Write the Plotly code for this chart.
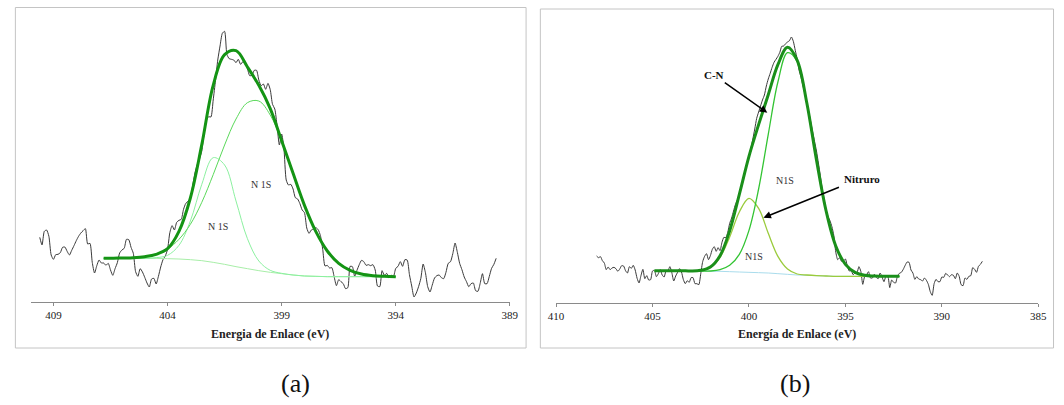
import plotly.graph_objects as go

# ---------------- Panel (a): N 1s spectrum ----------------
# scan grid of the measured spectrum, 0.1 eV step
energy_a = [round(409.6 - 0.1 * i, 1) for i in range(201)]
counts_a = [
    194, 171, 212, 216, 197, 141, 128, 142, 143, 148,
    164, 165, 152, 141, 155, 169, 184, 197, 207, 214,
    220, 174, 176, 119, 87, 109, 126, 117, 117, 110,
    116, 96, 80, 100, 118, 147, 156, 161, 188, 187,
    164, 146, 91, 77, 100, 90, 74, 57, 45, 69,
    71, 54, 77, 105, 127, 138, 158, 208, 229, 216,
    239, 245, 248, 278, 296, 302, 312, 349, 387, 412,
    429, 453, 505, 545, 556, 555, 606, 664, 726, 768,
    806, 812, 743, 730, 728, 726, 718, 728, 713, 721,
    718, 700, 679, 680, 695, 695, 666, 649, 654, 638,
    656, 637, 593, 579, 528, 471, 504, 461, 366, 351,
    353, 339, 313, 309, 295, 276, 268, 222, 206, 216,
    219, 223, 217, 199, 158, 108, 110, 102, 103, 76,
    49, 67, 61, 55, 40, 43, 107, 106, 77, 95,
    112, 125, 121, 110, 112, 109, 112, 96, 48, 46,
    94, 80, 86, 73, 80, 77, 101, 107, 121, 107,
    127, 126, 82, 48, 15, 27, 46, 71, 114, 88,
    46, 30, 51, 72, 79, 81, 73, 70, 89, 116,
    121, 145, 177, 149, 116, 97, 75, 61, 46, 55,
    57, 34, 32, 56, 85, 55, 55, 77, 101, 113,
    131,
]

fit_energy_a = [406.8, 406.5, 406.0, 405.5, 405.0, 404.5, 404.0, 403.5, 403.0,
                402.5, 402.0, 401.5, 401.0, 400.5, 400.0, 399.5, 399.0, 398.5,
                398.0, 397.5, 397.0, 396.5, 396.0, 395.5, 395.0, 394.5, 394.0]
background_a = [131, 131, 131, 131, 131, 131, 130, 129, 127, 124, 119, 113, 106,
                100, 94, 89, 85, 81, 78, 77, 76, 76, 76, 76, 76, 76, 76]
peak1_a = [131, 131, 131, 131, 131, 133, 140, 170, 243, 353, 433, 411, 303,
           190, 123, 95, 86, 81, 78, 77, 76, 76, 76, 76, 76, 76, 76]
peak2_a = [131, 131, 132, 133, 137, 144, 159, 188, 233, 299, 382, 471, 549,
           598, 603, 561, 483, 386, 290, 211, 153, 116, 95, 84, 79, 77, 76]
envelope_a = [131, 131, 132, 133, 136, 143, 160, 212, 312, 472, 650, 742, 754,
              705, 650, 580, 484, 386, 290, 211, 153, 116, 95, 84, 79, 77, 76]
ticks_a = [409, 404, 399, 394, 389]

# ---------------- Panel (b): N 1s spectrum ----------------
energy_b = [round(407.9 - 0.1 * i, 1) for i in range(201)]
counts_b = [
    141, 136, 139, 127, 120, 100, 108, 100, 105, 107,
    103, 95, 102, 112, 111, 97, 90, 109, 104, 113,
    99, 74, 60, 82, 101, 73, 82, 69, 70, 96,
    98, 79, 88, 100, 84, 78, 96, 97, 109, 91,
    66, 81, 92, 103, 93, 70, 58, 67, 62, 76,
    76, 58, 58, 55, 88, 124, 140, 148, 130, 142,
    161, 169, 155, 166, 157, 182, 197, 196, 212, 239,
    255, 276, 296, 309, 325, 345, 368, 392, 416, 440,
    464, 492, 522, 554, 573, 591, 609, 624, 651, 672,
    689, 707, 722, 731, 740, 752, 770, 771, 778, 783,
    787, 798, 785, 758, 732, 698, 677, 651, 628, 603,
    574, 544, 514, 485, 456, 420, 382, 341, 310, 279,
    259, 247, 229, 202, 153, 130, 136, 125, 126, 132,
    111, 96, 97, 85, 90, 91, 109, 95, 56, 80,
    85, 94, 75, 75, 86, 77, 73, 90, 78, 64,
    80, 80, 46, 69, 62, 60, 81, 89, 92, 101,
    113, 123, 122, 99, 90, 71, 79, 72, 70, 66,
    75, 68, 56, 34, 23, 58, 71, 64, 64, 78,
    77, 89, 84, 79, 85, 83, 73, 90, 80, 55,
    52, 75, 71, 80, 82, 106, 101, 92, 110, 116,
    125,
]

fit_energy_b = [404.9, 404.5, 404.0, 403.5, 403.0, 402.5, 402.0, 401.5, 401.0,
                400.5, 400.0, 399.5, 399.0, 398.5, 398.0, 397.5, 397.0, 396.5,
                396.0, 395.5, 395.0, 394.5, 394.0, 393.5, 393.0, 392.5, 392.2]
background_b = [97, 97, 97, 97, 96, 96, 95, 95, 94, 93, 92, 91, 90, 88, 86, 84,
                83, 82, 81, 80, 80, 80, 80, 80, 80, 80, 80]
cn_peak_b = [97, 97, 97, 97, 96, 96, 96, 100, 113, 146, 218, 342, 506, 663,
             751, 725, 599, 429, 276, 171, 116, 92, 83, 81, 80, 80, 80]
nitride_peak_b = [97, 97, 97, 97, 96, 98, 107, 137, 198, 273, 314, 284, 209,
                  140, 102, 87, 84, 82, 81, 80, 80, 80, 80, 80, 80, 80, 80]
envelope_b = [97, 97, 97, 97, 96, 98, 108, 142, 217, 326, 440, 535, 625, 715,
              767, 728, 600, 429, 276, 171, 116, 92, 83, 81, 80, 80, 80]
ticks_b = [410, 405, 400, 395, 390, 385]

SERIF = "Liberation Serif, Times New Roman, serif"
W, H = 1064, 405


def px(x):
    return x / W


def py(y):
    return 1 - y / H


def line(x, y, color, width, xa, ya, smooth=1.0):
    return go.Scatter(x=x, y=y, mode="lines", xaxis=xa, yaxis=ya,
                      line=dict(color=color, width=width, shape="spline",
                                smoothing=smooth),
                      hoverinfo="skip", showlegend=False)


fig = go.Figure()

# panel (a)
fig.add_trace(line(energy_a, counts_a, "#3a3a3a", 1, "x", "y", 0.6))
fig.add_trace(line(fit_energy_a, background_a, "#a8eea8", 1, "x", "y"))
fig.add_trace(line(fit_energy_a, peak1_a, "#8cf0a0", 1, "x", "y"))
fig.add_trace(line(fit_energy_a, peak2_a, "#5ad85a", 1, "x", "y"))
fig.add_trace(line(fit_energy_a, envelope_a, "#149414", 3, "x", "y"))

# panel (b)
fig.add_trace(line(energy_b, counts_b, "#3a3a3a", 1, "x2", "y2", 0.6))
fig.add_trace(line(fit_energy_b, background_b, "#a9dcec", 1, "x2", "y2"))
fig.add_trace(line(fit_energy_b, nitride_peak_b, "#9acb3c", 1.3, "x2", "y2"))
fig.add_trace(line(fit_energy_b, cn_peak_b, "#33c433", 1.3, "x2", "y2"))
fig.add_trace(line(fit_energy_b, envelope_b, "#1a8f1a", 3, "x2", "y2"))

axis_common = dict(showgrid=False, zeroline=False, showline=True,
                   linecolor="#8a8a8a", linewidth=1, ticks="outside",
                   ticklen=3, tickcolor="#8a8a8a", tickmode="array",
                   tickfont=dict(family=SERIF, size=11, color="#222222"))

fig.update_layout(
    width=W, height=H, margin=dict(l=0, r=0, t=0, b=0),
    paper_bgcolor="white", plot_bgcolor="white",
    xaxis=dict(domain=[px(23), px(510)], range=[410, 389], tickvals=ticks_a,
               anchor="y", **axis_common),
    yaxis=dict(domain=[py(302), py(12)], range=[0, 870], visible=False,
               anchor="x"),
    xaxis2=dict(domain=[px(557), px(1047)], range=[410, 385], tickvals=ticks_b,
                anchor="y2", **axis_common),
    yaxis2=dict(domain=[py(303), py(13)], range=[0, 870], visible=False,
                anchor="x2"),
)

# panel frames
for x0, x1, y0, y1 in [(7.5, 526.5, 7.5, 348), (541, 1062.5, 9, 348)]:
    fig.add_shape(type="rect", xref="paper", yref="paper",
                  x0=px(x0), x1=px(x1), y0=py(y1), y1=py(y0),
                  line=dict(color="#c4c4c4", width=1), fillcolor="rgba(0,0,0,0)")

txt = dict(family=SERIF, size=10, color="#333333")
bold = dict(family=SERIF, size=11, color="#111111")
centered = dict(xanchor="center", yanchor="middle", showarrow=False)

annotations = [
    # axis titles
    dict(text="<b>Energia de Enlace (eV)</b>", xref="paper", yref="paper",
         x=px(266), y=py(334), font=dict(family=SERIF, size=12, color="#222222"),
         **centered),
    dict(text="<b>Energía de Enlace (eV)</b>", xref="paper", yref="paper",
         x=px(802), y=py(334), font=dict(family=SERIF, size=12, color="#222222"),
         **centered),
    # panel letters
    dict(text="(a)", xref="paper", yref="paper", x=px(292), y=py(383),
         font=dict(family=SERIF, size=26, color="#111111"), **centered),
    dict(text="(b)", xref="paper", yref="paper", x=px(800), y=py(383),
         font=dict(family=SERIF, size=26, color="#111111"), **centered),
    # component labels, panel (a)
    dict(text="N 1S", xref="x", yref="y", x=399.91, y=354, font=txt, **centered),
    dict(text="N 1S", xref="x", yref="y", x=401.77, y=228, font=txt, **centered),
    # component labels, panel (b)
    dict(text="N1S", xref="x2", yref="y2", x=398.13, y=367, font=txt, **centered),
    dict(text="N1S", xref="x2", yref="y2", x=399.76, y=139, font=txt, **centered),
    dict(text="<b>C-N</b>", xref="x2", yref="y2", x=401.80, y=685, font=bold,
         **centered),
    dict(text="<b>Nitruro</b>", xref="x2", yref="y2", x=394.15, y=373,
         font=bold, **centered),
    # arrows
    dict(text="", xref="x2", yref="y2", x=399.05, y=571, ax=-44, ay=-31,
         showarrow=True, arrowhead=2, arrowsize=1, arrowwidth=1.5,
         arrowcolor="#000000"),
    dict(text="", xref="x2", yref="y2", x=399.25, y=256, ax=77, ay=-31,
         showarrow=True, arrowhead=2, arrowsize=1, arrowwidth=1.5,
         arrowcolor="#000000"),
]
fig.update_layout(annotations=annotations)

fig.write_html("out.html")
